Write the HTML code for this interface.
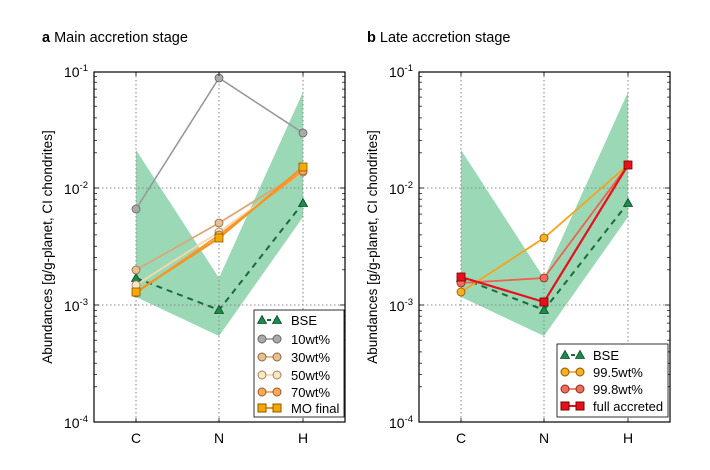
<!DOCTYPE html>
<html><head><meta charset="utf-8"><style>
html,body{margin:0;padding:0;background:#fff;}
svg{display:block;font-family:"Liberation Sans",sans-serif;}
</style></head><body>
<svg width="710" height="470" viewBox="0 0 710 470" xmlns="http://www.w3.org/2000/svg">
<defs>
<g id="tri"><polygon points="0,-4.5 4.5,3.5 -4.5,3.5" fill="#1e8a4a" stroke="#0d4f2a" stroke-width="0.8"/></g>
<g id="minL" stroke="#000" stroke-width="0.7">
<line x1="0" y1="81.8" x2="3" y2="81.8"/><line x1="0" y1="69.4" x2="3" y2="69.4"/><line x1="0" y1="58.2" x2="3" y2="58.2"/><line x1="0" y1="46.9" x2="3" y2="46.9"/><line x1="0" y1="35.2" x2="3" y2="35.2"/><line x1="0" y1="26.1" x2="3" y2="26.1"/><line x1="0" y1="18.1" x2="3" y2="18.1"/><line x1="0" y1="11.2" x2="3" y2="11.2"/><line x1="0" y1="5.4" x2="3" y2="5.4"/>
</g>
</defs>

<!-- Panel a -->
<text x="42" y="42" font-size="14.5"><tspan font-weight="bold">a</tspan>  Main accretion stage</text>
<g>
<polygon points="136,150 219,278 303,92 303,217 219,336 136,297" fill="#8fd4ae" opacity="0.9"/>
<g stroke="#888" stroke-width="1" stroke-dasharray="1.5,2.5">
<line x1="136" y1="72" x2="136" y2="422"/><line x1="219" y1="72" x2="219" y2="422"/><line x1="303" y1="72" x2="303" y2="422"/>
<line x1="94" y1="188" x2="345" y2="188"/><line x1="94" y1="305" x2="345" y2="305"/>
</g>
<polyline points="136,278 219,310 303,203" fill="none" stroke="#1a6b3a" stroke-width="2" stroke-dasharray="6,5"/>
<use href="#tri" x="136" y="278"/><use href="#tri" x="219" y="310"/><use href="#tri" x="303" y="203"/>
<polyline points="136,209 219,78 303,133" fill="none" stroke="#999" stroke-width="1.6"/>
<g fill="#aaa" stroke="#666" stroke-width="0.8"><circle cx="136" cy="209" r="4"/><circle cx="219" cy="78" r="4"/><circle cx="303" cy="133" r="4"/></g>
<polyline points="136,270 219,223 303,171" fill="none" stroke="#d9a878" stroke-width="1.8"/>
<g fill="#e8c090" stroke="#8a6a40" stroke-width="0.8"><circle cx="136" cy="270" r="4"/><circle cx="219" cy="223" r="4"/><circle cx="303" cy="171" r="4"/></g>
<polyline points="136,285 219,232 303,172" fill="none" stroke="#f8d8a8" stroke-width="1.8"/>
<g fill="#fde6c4" stroke="#a08060" stroke-width="0.8"><circle cx="136" cy="285" r="4"/><circle cx="219" cy="232" r="4"/><circle cx="303" cy="172" r="4"/></g>
<polyline points="136,293 219,235 303,171" fill="none" stroke="#f79a3a" stroke-width="1.8"/>
<g fill="#f8aa5a" stroke="#9a5a20" stroke-width="0.8"><circle cx="136" cy="293" r="4"/><circle cx="219" cy="235" r="4"/><circle cx="303" cy="171" r="4"/></g>
<polyline points="136,292 219,238 303,167" fill="none" stroke="#f7941d" stroke-width="2.2"/>
<g fill="#f5a800" stroke="#8a5a00" stroke-width="0.8"><rect x="132" y="288" width="8" height="8"/><rect x="215" y="234" width="8" height="8"/><rect x="299" y="163" width="8" height="8"/></g>
<rect x="94" y="72" width="251" height="350" fill="none" stroke="#000" stroke-width="1.2"/>
<use href="#minL" x="94" y="71"/><use href="#minL" x="94" y="188"/><use href="#minL" x="94" y="305"/>
<g transform="translate(439,0) scale(-1,1)"><use href="#minL" x="94" y="71"/><use href="#minL" x="94" y="188"/><use href="#minL" x="94" y="305"/></g>
<g stroke="#000" stroke-width="0.8">
<line x1="136" y1="418" x2="136" y2="422"/><line x1="219" y1="418" x2="219" y2="422"/><line x1="303" y1="418" x2="303" y2="422"/>
<line x1="136" y1="72" x2="136" y2="76"/><line x1="219" y1="72" x2="219" y2="76"/><line x1="303" y1="72" x2="303" y2="76"/>
<line x1="94" y1="188" x2="99" y2="188"/><line x1="94" y1="305" x2="99" y2="305"/>
<line x1="340" y1="188" x2="345" y2="188"/><line x1="340" y1="305" x2="345" y2="305"/>
</g>
<g font-size="14" text-anchor="middle"><text x="136" y="443">C</text><text x="219" y="443">N</text><text x="303" y="443">H</text></g>
<g font-size="14" text-anchor="end">
<text x="88" y="77">10<tspan dy="-6" font-size="9.5">-1</tspan></text>
<text x="88" y="194">10<tspan dy="-6" font-size="9.5">-2</tspan></text>
<text x="88" y="311">10<tspan dy="-6" font-size="9.5">-3</tspan></text>
<text x="88" y="428">10<tspan dy="-6" font-size="9.5">-4</tspan></text>
</g>
<text transform="translate(52,247) rotate(-90)" font-size="13.5" text-anchor="middle">Abundances [g/g-planet, CI chondrites]</text>
<!-- legend a -->
<rect x="254" y="310" width="90" height="107" fill="#fff" stroke="#000" stroke-width="0.8"/>
<g font-size="13">
<line x1="260" y1="320" x2="278" y2="320" stroke="#1a6b3a" stroke-width="2" stroke-dasharray="4,3"/>
<use href="#tri" x="262" y="320"/><use href="#tri" x="277" y="320"/><text x="291" y="325">BSE</text>
<line x1="262" y1="339" x2="277" y2="339" stroke="#999" stroke-width="1.6"/>
<circle cx="262" cy="339" r="4" fill="#aaa" stroke="#666"/><circle cx="277" cy="339" r="4" fill="#aaa" stroke="#666"/><text x="291" y="344">10wt%</text>
<line x1="262" y1="357" x2="277" y2="357" stroke="#d9a878" stroke-width="1.6"/>
<circle cx="262" cy="357" r="4" fill="#e8c090" stroke="#8a6a40"/><circle cx="277" cy="357" r="4" fill="#e8c090" stroke="#8a6a40"/><text x="291" y="362">30wt%</text>
<line x1="262" y1="375" x2="277" y2="375" stroke="#f8d8a8" stroke-width="1.6"/>
<circle cx="262" cy="375" r="4" fill="#fde6c4" stroke="#a08060"/><circle cx="277" cy="375" r="4" fill="#fde6c4" stroke="#a08060"/><text x="291" y="380">50wt%</text>
<line x1="262" y1="392" x2="277" y2="392" stroke="#f79a3a" stroke-width="1.6"/>
<circle cx="262" cy="392" r="4" fill="#f8aa5a" stroke="#9a5a20"/><circle cx="277" cy="392" r="4" fill="#f8aa5a" stroke="#9a5a20"/><text x="291" y="397">70wt%</text>
<line x1="262" y1="408" x2="277" y2="408" stroke="#f7941d" stroke-width="2"/>
<rect x="258" y="404" width="8" height="8" fill="#f5a800" stroke="#8a5a00"/><rect x="273" y="404" width="8" height="8" fill="#f5a800" stroke="#8a5a00"/><text x="291" y="413">MO final</text>
</g>
</g>

<!-- Panel b -->
<text x="367" y="42" font-size="14.5"><tspan font-weight="bold">b</tspan>  Late accretion stage</text>
<g>
<polygon points="461,150 544,278 628,92 628,217 544,336 461,297" fill="#8fd4ae" opacity="0.9"/>
<g stroke="#888" stroke-width="1" stroke-dasharray="1.5,2.5">
<line x1="461" y1="72" x2="461" y2="422"/><line x1="544" y1="72" x2="544" y2="422"/><line x1="628" y1="72" x2="628" y2="422"/>
<line x1="419" y1="188" x2="670" y2="188"/><line x1="419" y1="305" x2="670" y2="305"/>
</g>
<polyline points="461,278 544,310 628,203" fill="none" stroke="#1a6b3a" stroke-width="2" stroke-dasharray="6,5"/>
<use href="#tri" x="461" y="278"/><use href="#tri" x="544" y="310"/><use href="#tri" x="628" y="203"/>
<polyline points="461,292 544,238 628,165" fill="none" stroke="#f7a21b" stroke-width="1.8"/>
<g fill="#f8b020" stroke="#8a5a00" stroke-width="0.8"><circle cx="461" cy="292" r="4"/><circle cx="544" cy="238" r="4"/></g>
<polyline points="461,283 544,278 628,165" fill="none" stroke="#f06050" stroke-width="1.8"/>
<g fill="#f26b5b" stroke="#8a2a20" stroke-width="0.8"><circle cx="461" cy="283" r="4"/><circle cx="544" cy="278" r="4"/></g>
<polyline points="461,277 544,302 628,165" fill="none" stroke="#e8101a" stroke-width="2.2"/>
<g fill="#e8101a" stroke="#700" stroke-width="0.8"><rect x="457" y="273" width="8" height="8"/><rect x="540" y="298" width="8" height="8"/><rect x="624" y="161" width="8" height="8"/></g>
<rect x="419" y="72" width="251" height="350" fill="none" stroke="#000" stroke-width="1.2"/>
<use href="#minL" x="419" y="71"/><use href="#minL" x="419" y="188"/><use href="#minL" x="419" y="305"/>
<g transform="translate(1089,0) scale(-1,1)"><use href="#minL" x="419" y="71"/><use href="#minL" x="419" y="188"/><use href="#minL" x="419" y="305"/></g>
<g stroke="#000" stroke-width="0.8">
<line x1="461" y1="418" x2="461" y2="422"/><line x1="544" y1="418" x2="544" y2="422"/><line x1="628" y1="418" x2="628" y2="422"/>
<line x1="461" y1="72" x2="461" y2="76"/><line x1="544" y1="72" x2="544" y2="76"/><line x1="628" y1="72" x2="628" y2="76"/>
<line x1="419" y1="188" x2="424" y2="188"/><line x1="419" y1="305" x2="424" y2="305"/>
<line x1="665" y1="188" x2="670" y2="188"/><line x1="665" y1="305" x2="670" y2="305"/>
</g>
<g font-size="14" text-anchor="middle"><text x="461" y="443">C</text><text x="544" y="443">N</text><text x="628" y="443">H</text></g>
<g font-size="14" text-anchor="end">
<text x="413" y="77">10<tspan dy="-6" font-size="9.5">-1</tspan></text>
<text x="413" y="194">10<tspan dy="-6" font-size="9.5">-2</tspan></text>
<text x="413" y="311">10<tspan dy="-6" font-size="9.5">-3</tspan></text>
<text x="413" y="428">10<tspan dy="-6" font-size="9.5">-4</tspan></text>
</g>
<text transform="translate(377,247) rotate(-90)" font-size="13.5" text-anchor="middle">Abundances [g/g-planet, CI chondrites]</text>
<!-- legend b -->
<rect x="557" y="344" width="111" height="73" fill="#fff" stroke="#000" stroke-width="0.8"/>
<g font-size="13">
<line x1="564" y1="355" x2="581" y2="355" stroke="#1a6b3a" stroke-width="2" stroke-dasharray="4,3"/>
<use href="#tri" x="565" y="355"/><use href="#tri" x="580" y="355"/><text x="593" y="360">BSE</text>
<line x1="565" y1="372" x2="580" y2="372" stroke="#f7a21b" stroke-width="1.6"/>
<circle cx="565" cy="372" r="4" fill="#f8b020" stroke="#8a5a00"/><circle cx="580" cy="372" r="4" fill="#f8b020" stroke="#8a5a00"/><text x="593" y="377">99.5wt%</text>
<line x1="565" y1="389" x2="580" y2="389" stroke="#f06050" stroke-width="1.6"/>
<circle cx="565" cy="389" r="4" fill="#f26b5b" stroke="#8a2a20"/><circle cx="580" cy="389" r="4" fill="#f26b5b" stroke="#8a2a20"/><text x="593" y="394">99.8wt%</text>
<line x1="565" y1="406" x2="580" y2="406" stroke="#e8101a" stroke-width="2"/>
<rect x="561" y="402" width="8" height="8" fill="#e8101a" stroke="#700"/><rect x="576" y="402" width="8" height="8" fill="#e8101a" stroke="#700"/><text x="593" y="411">full accreted</text>
</g>
</g>
</svg>
</body></html>
